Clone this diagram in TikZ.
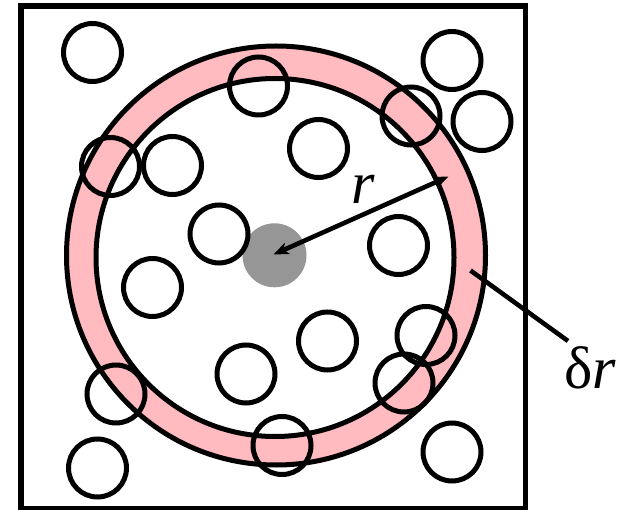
\documentclass[tikz,border=0pt]{standalone}
\usepackage{fontspec}
\setmainfont{Liberation Serif}
\usetikzlibrary{arrows.meta}
\definecolor{ringpink}{RGB}{255,187,191}
\definecolor{dotgray}{RGB}{150,150,150}
\tikzset{
  frame/.style={draw=black,line width=5.5pt},
  ringline/.style={draw=black,line width=5pt},
  particle/.style={draw=black,line width=5pt},
  pointer/.style={draw=black,line width=4.6pt},
  biglabel/.style={inner sep=0pt,font=\fontsize{60}{62}\selectfont}
}
\begin{document}
\begin{tikzpicture}[x=1pt,y=-1pt]
\useasboundingbox (0,0) rectangle (634,510);
% frame
\draw[frame] (21,6) rectangle (525.5,508.5);
% pink shell
\fill[ringpink,even odd rule] (276,255.5) circle[radius=209.5pt] (275,257.5) circle[radius=179pt];
\draw[ringline] (276,255.5) circle[radius=209.5pt];
\draw[ringline] (275,257.5) circle[radius=179pt];
% central particle
\fill[dotgray] (274.5,255.3) circle[radius=32pt];
% particles
\foreach \px/\py in {92.5/52.5, 258.5/86, 452/60.5, 411/116, 482/121.5,
  110.5/166.5, 172.5/165.5, 318.5/148.5, 219/234, 398.5/245.5,
  152.5/287.5, 327.5/341, 426/335.5, 246/374, 404/383,
  116/394, 282/445.5, 97.5/468, 452/452}
  \draw[particle] (\px,\py) circle[radius=29pt];
% radius arrow
\coordinate (c) at (273.5,254.5);
\coordinate (rim) at (448.5,176.5);
\draw[pointer,{Stealth[length=15pt,width=12pt,inset=4pt]}-{Stealth[length=15pt,width=12pt,inset=4pt]}] (c) -- (rim);
\node[biglabel,anchor=base west] (rlab) at (351,203.5) {\itshape r};
% shell label
\coordinate (shell) at (470.5,270.5);
\node[biglabel,anchor=base west] (drlab) at (564,388.5) {δ\itshape r};
\coordinate (lead) at (568,341);
\draw[pointer] (shell) -- (lead);
\end{tikzpicture}
\end{document}
